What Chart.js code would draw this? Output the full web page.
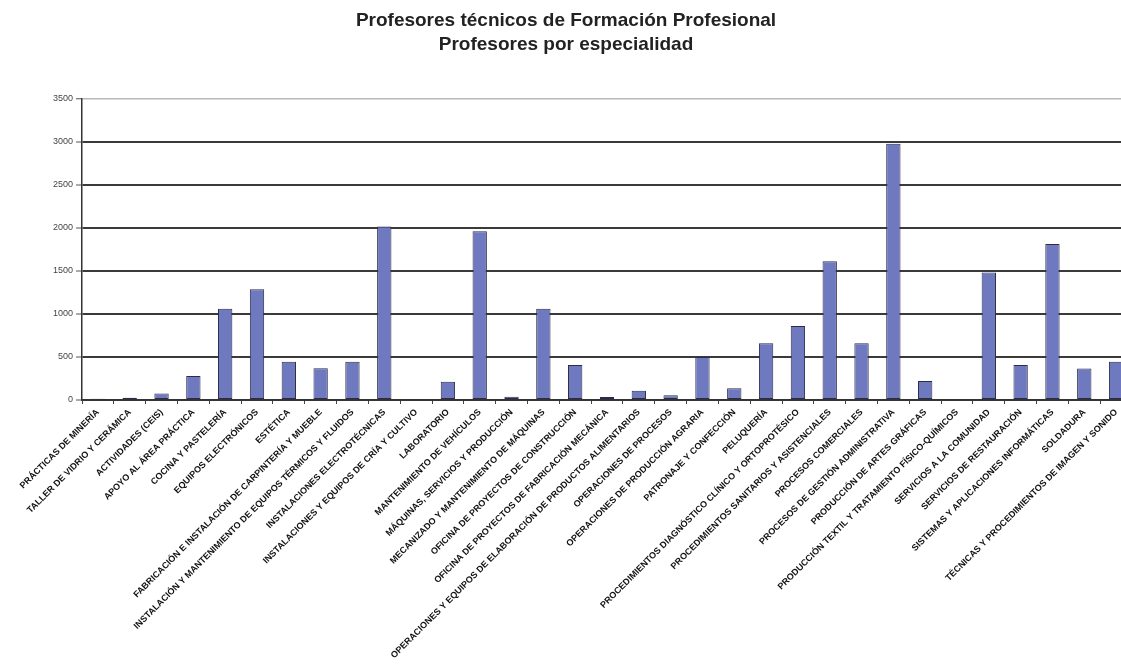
<!DOCTYPE html>
<html>
<head>
<meta charset="utf-8">
<script src="https://cdn.jsdelivr.net/npm/chart.js@4.4.1/dist/chart.umd.min.js"></script>
<style>
  html, body { margin: 0; padding: 0; background: #fff; overflow: hidden; }
  #wrap { width: 1132px; height: 664px; }
</style>
</head>
<body>
<div id="wrap"><canvas id="chart"></canvas></div>
<script>
// categories (especialidades)
const especialidades = [
  "PRÁCTICAS DE MINERÍA",
  "TALLER DE VIDRIO Y CERÁMICA",
  "ACTIVIDADES (CEIS)",
  "APOYO AL ÁREA PRÁCTICA",
  "COCINA Y PASTELERÍA",
  "EQUIPOS ELECTRÓNICOS",
  "ESTÉTICA",
  "FABRICACIÓN E INSTALACIÓN DE CARPINTERÍA Y MUEBLE",
  "INSTALACIÓN Y MANTENIMIENTO DE EQUIPOS TÉRMICOS Y FLUIDOS",
  "INSTALACIONES ELECTROTÉCNICAS",
  "INSTALACIONES Y EQUIPOS DE CRÍA Y CULTIVO",
  "LABORATORIO",
  "MANTENIMIENTO DE VEHÍCULOS",
  "MÁQUINAS, SERVICIOS Y PRODUCCIÓN",
  "MECANIZADO Y MANTENIMIENTO DE MÁQUINAS",
  "OFICINA DE PROYECTOS DE CONSTRUCCIÓN",
  "OFICINA DE PROYECTOS DE FABRICACIÓN MECÁNICA",
  "OPERACIONES Y EQUIPOS DE ELABORACIÓN DE PRODUCTOS ALIMENTARIOS",
  "OPERACIONES DE PROCESOS",
  "OPERACIONES DE PRODUCCIÓN AGRARIA",
  "PATRONAJE Y CONFECCIÓN",
  "PELUQUERÍA",
  "PROCEDIMIENTOS DIAGNÓSTICO CLÍNICO Y ORTOPROTÉSICO",
  "PROCEDIMIENTOS SANITARIOS Y ASISTENCIALES",
  "PROCESOS COMERCIALES",
  "PROCESOS DE GESTIÓN ADMINISTRATIVA",
  "PRODUCCIÓN DE ARTES GRÁFICAS",
  "PRODUCCIÓN TEXTIL Y TRATAMIENTO FÍSICO-QUÍMICOS",
  "SERVICIOS A LA COMUNIDAD",
  "SERVICIOS DE RESTAURACIÓN",
  "SISTEMAS Y APLICACIONES INFORMÁTICAS",
  "SOLDADURA",
  "TÉCNICAS Y PROCEDIMIENTOS DE IMAGEN Y SONIDO"
];

// profesores por especialidad
const profesores = [
  15, 25, 75, 280, 1060, 1285, 445, 368, 445, 2015,
  10, 213, 1960, 38, 1060, 407, 35, 108, 55, 500,
  135, 660, 860, 1610, 660, 2975, 220, 12, 1480, 405,
  1810, 365, 445
];

const yTicks = [0, 500, 1000, 1500, 2000, 2500, 3000, 3500];
const titulo = ["Profesores técnicos de Formación Profesional", "Profesores por especialidad"];

new Chart(document.getElementById("chart"), {
  type: "bar",
  data: {
    labels: especialidades,
    datasets: [{
      label: "Profesores",
      data: profesores,
      backgroundColor: "#6f79bf",
      borderColor: "#2b2d48",
      borderWidth: 1,
      borderSkipped: false,
      barPercentage: 0.53,
      categoryPercentage: 0.85
    }]
  },
  options: {
    responsive: true,
    maintainAspectRatio: false,
    animation: false,
    layout: { padding: 0 },
    plugins: {
      legend: { display: false },
      tooltip: { enabled: false },
      title: {
        display: true,
        text: titulo,
        color: "#222",
        font: { family: "Arial, 'Liberation Sans', sans-serif", size: 19, weight: "bold", lineHeight: 1.25 },
        padding: { top: 9, bottom: 42 }
      }
    },
    scales: {
      x: {
        offset: true,
        grid: { display: true, drawOnChartArea: false, drawTicks: true, tickLength: 4, color: "#444", offset: true },
        border: { display: true, color: "#333", width: 1.5 },
        ticks: {
          autoSkip: false,
          minRotation: 45,
          maxRotation: 45,
          color: "#111",
          padding: 3,
          font: { family: "Arial, 'Liberation Sans', sans-serif", size: 9, weight: "bold" }
        },
        afterFit: (s) => { s.height = 264; }
      },
      y: {
        min: 0,
        max: 3500,
        afterBuildTicks: (s) => { s.ticks = yTicks.map((v) => ({ value: v })); },
        grid: {
          color: (c) => (c.tick && c.tick.value === 3500 ? "#b8b8b8" : "#3a3a3a"),
          lineWidth: (c) => (c.tick && c.tick.value === 3500 ? 1.5 : 2),
          tickLength: 6,
          tickColor: "#555",
          tickWidth: 1
        },
        border: { display: true, color: "#333", width: 1.5 },
        ticks: {
          color: "#444",
          padding: 3,
          font: { family: "Arial, 'Liberation Sans', sans-serif", size: 9 },
          callback: (v) => String(v)
        },
        afterFit: (s) => { s.width = 82; }
      }
    }
  }
});
</script>
</body>
</html>
